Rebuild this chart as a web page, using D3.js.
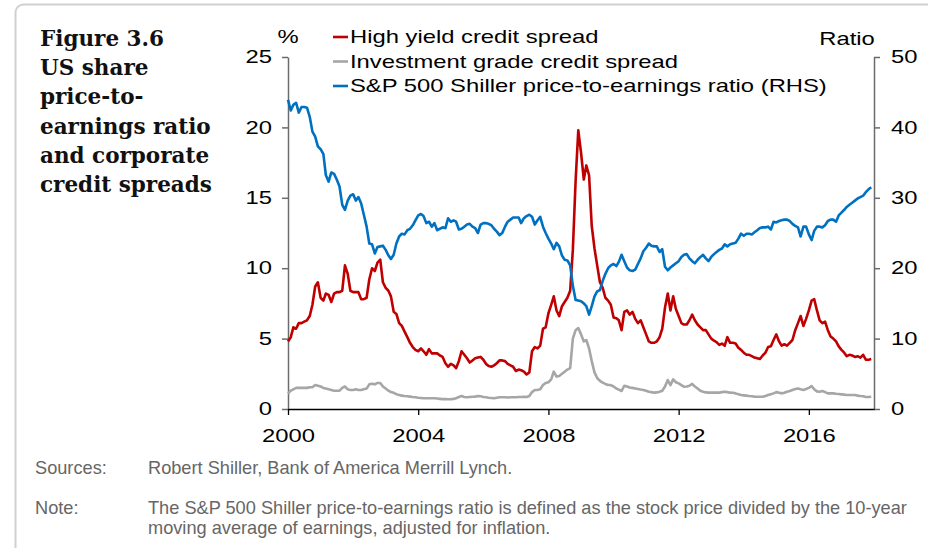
<!DOCTYPE html>
<html>
<head>
<meta charset="utf-8">
<script src="https://cdn.jsdelivr.net/npm/d3@7"></script>
<style>
  body { margin: 0; background: #fff; }
  svg { display: block; }
</style>
</head>
<body>
<svg id="chart" width="928" height="548"></svg>
<script>
// monthly data, Jan 2000 - Dec 2017
const startYear = 2000;

// high yield credit spread, % (LHS)
const hySpread = [
  4.8, 5.1, 5.8, 5.7, 6.1, 6.1, 6.2, 6.3, 6.6, 7.4, 8.7, 9.0,
  7.9, 7.7, 8.2, 8.1, 7.6, 8.2, 8.3, 8.3, 8.4, 10.2, 9.6, 8.4,
  8.3, 8.3, 8.3, 7.8, 7.8, 7.9, 9.2, 10.0, 9.8, 10.4, 10.6, 9.0,
  8.6, 8.4, 8.0, 6.9, 6.75, 6.1, 5.9, 5.5, 5.1, 4.7, 4.4, 4.2,
  4.1, 4.3, 4.1, 3.85, 4.25, 3.95, 3.95, 3.95, 3.8, 3.7, 3.25, 3.0,
  3.2, 3.1, 2.9, 3.4, 4.1, 3.85, 3.6, 3.3, 3.45, 3.6, 3.65, 3.7,
  3.5, 3.2, 3.05, 3.0, 3.1, 3.25, 3.45, 3.45, 3.4, 3.2, 3.1, 3.0,
  2.7, 2.8, 2.75, 2.65, 2.45, 2.6, 4.1, 4.4, 4.3, 4.5, 5.7, 5.8,
  6.8, 7.4, 8.0, 7.0, 6.6, 7.3, 7.6, 7.9, 8.4, 11.3, 16.2, 19.8,
  18.2, 16.3, 17.3, 16.6, 13.0, 11.4, 10.2, 9.0, 8.6, 7.9, 7.7, 7.4,
  6.5, 6.45, 6.3, 5.6, 6.9, 7.0, 6.7, 6.9, 6.4, 6.1, 6.3, 5.8,
  5.3, 4.8, 4.7, 4.7, 4.8, 5.1, 5.7, 7.2, 8.2, 7.0, 8.0, 7.1,
  6.6, 6.1, 6.0, 6.0, 6.3, 6.7, 6.3, 6.0, 5.8, 5.6, 5.6, 5.3,
  5.0, 4.85, 4.75, 4.55, 4.65, 4.5, 5.1, 4.7, 4.7, 4.65, 4.35, 4.2,
  4.0, 3.85, 3.85, 3.75, 3.65, 3.6, 3.55, 3.8, 4.0, 4.4, 4.45, 4.9,
  5.3, 4.8, 4.5, 4.6, 4.5, 4.7, 4.9, 5.6, 6.1, 6.6, 5.9, 6.4,
  7.0, 7.7, 7.8, 7.0, 6.3, 6.1, 6.2, 5.6, 5.15, 5.0, 4.8, 4.45,
  4.2, 4.0, 3.75, 3.85, 3.8, 3.7, 3.75, 3.65, 3.85, 3.5, 3.5, 3.55
];

// investment grade credit spread, % (LHS)
const igSpread = [
  1.1, 1.3, 1.4, 1.5, 1.5, 1.5, 1.5, 1.5, 1.55, 1.55, 1.7, 1.65,
  1.6, 1.5, 1.45, 1.4, 1.35, 1.3, 1.3, 1.3, 1.5, 1.6, 1.4, 1.35,
  1.35, 1.4, 1.35, 1.35, 1.4, 1.45, 1.75, 1.8, 1.75, 1.85, 1.85, 1.6,
  1.45, 1.3, 1.2, 1.15, 1.05, 1.0, 0.95, 0.92, 0.9, 0.88, 0.85, 0.83,
  0.8, 0.78, 0.76, 0.76, 0.76, 0.76, 0.76, 0.74, 0.72, 0.7, 0.7, 0.69,
  0.7, 0.72, 0.76, 0.85, 0.92, 0.85, 0.83, 0.85, 0.87, 0.88, 0.92, 0.9,
  0.85, 0.83, 0.8, 0.78, 0.76, 0.8, 0.83, 0.83, 0.83, 0.82, 0.83, 0.83,
  0.83, 0.85, 0.85, 0.87, 0.85, 0.92, 1.2, 1.35, 1.35, 1.4, 1.7, 1.85,
  1.9, 2.1, 2.65, 2.3, 2.35, 2.5, 2.65, 2.8, 2.9, 5.0, 5.6, 5.75,
  5.3, 4.8, 4.9, 4.3, 3.4, 2.6, 2.2, 2.0, 1.87, 1.78, 1.7, 1.7,
  1.6, 1.46, 1.38, 1.28, 1.65, 1.6, 1.53, 1.5, 1.46, 1.42, 1.38, 1.35,
  1.3, 1.23, 1.2, 1.16, 1.18, 1.23, 1.3, 1.6, 2.06, 1.7, 2.1, 1.9,
  1.82, 1.7, 1.58, 1.6, 1.65, 1.78, 1.6, 1.46, 1.3, 1.23, 1.18, 1.16,
  1.16, 1.16, 1.16, 1.16, 1.2, 1.23, 1.2, 1.16, 1.15, 1.11, 1.05, 0.99,
  0.97, 0.95, 0.92, 0.9, 0.88, 0.87, 0.87, 0.87, 0.92, 0.99, 1.05, 1.11,
  1.2, 1.16, 1.11, 1.15, 1.23, 1.28, 1.35, 1.42, 1.46, 1.4, 1.35, 1.42,
  1.5, 1.63, 1.4, 1.25, 1.23, 1.28, 1.2, 1.11, 1.11, 1.11, 1.08, 1.06,
  1.04, 1.02, 0.99, 0.99, 0.99, 0.99, 0.95, 0.92, 0.9, 0.85, 0.85, 0.87
];

// S&P 500 Shiller price-to-earnings ratio (RHS)
const peRatio = [
  43.9, 42.4, 43.2, 43.5, 42.1, 42.9, 42.9, 42.8, 41.5, 39.4, 38.7, 37.3,
  36.9, 36.2, 33.2, 32.3, 33.6, 33.4, 32.6, 31.6, 29.0, 28.3, 29.6, 30.3,
  30.5, 29.6, 30.1, 29.2, 27.6, 25.9, 23.5, 23.4, 22.1, 23.0, 23.1, 23.2,
  22.6, 21.8, 21.3, 21.9, 23.5, 24.5, 24.9, 24.8, 25.4, 25.6, 26.1, 26.8,
  27.5, 27.7, 27.4, 26.4, 26.6, 25.9, 26.4, 25.4, 25.6, 25.8, 25.7, 27.1,
  26.6, 26.8, 26.6, 25.5, 25.6, 25.9, 26.2, 26.3, 25.9, 25.7, 25.0, 26.2,
  26.4, 26.4, 26.3, 26.1, 25.6, 25.2, 24.7, 25.0, 25.9, 26.6, 26.9, 27.2,
  27.2, 27.2, 26.4, 27.1, 27.4, 27.6, 27.3, 26.2, 26.8, 27.3, 25.9, 25.0,
  24.2, 23.5, 22.7, 23.6, 23.1, 21.8, 21.2, 21.1, 20.4, 17.5, 15.5, 15.4,
  15.3, 15.0, 14.6, 13.4, 14.6, 16.0, 16.7, 16.9, 18.2, 19.2, 20.0, 20.4,
  20.6, 20.3, 20.9, 21.9, 21.0, 20.1, 19.7, 19.6, 19.8, 20.6, 21.4, 22.4,
  22.9, 23.5, 23.2, 23.1, 23.1, 22.3, 22.7, 20.2, 19.7, 20.1, 20.4, 20.7,
  21.0, 21.6, 21.9, 22.0, 21.4, 21.0, 20.7, 21.2, 21.6, 21.9, 21.4, 21.0,
  21.6, 22.0, 22.3, 22.6, 22.8, 23.4, 23.1, 23.4, 23.5, 23.6, 24.2, 24.9,
  24.6, 24.9, 24.9, 24.8, 25.1, 25.4, 25.7, 25.8, 25.8, 25.9, 25.5, 26.6,
  26.5, 26.7, 26.8, 26.9, 26.9, 26.7, 26.3, 26.0, 25.8, 24.5, 25.9, 25.9,
  24.8, 24.0, 25.3, 25.9, 25.9, 25.8, 26.1, 26.7, 26.9, 26.9, 26.6, 27.5,
  27.9, 28.3, 28.7, 29.0, 29.3, 29.6, 29.9, 30.1, 30.3, 30.8, 31.2, 31.5
];

const leftTicks = [0, 5, 10, 15, 20, 25];
const rightTicks = [0, 10, 20, 30, 40, 50];
const yearTicks = [2000, 2004, 2008, 2012, 2016];

const titleLines = ["Figure 3.6", "US share", "price-to-", "earnings ratio", "and corporate", "credit spreads"];
const seriesNames = [
  "High yield credit spread",
  "Investment grade credit spread",
  "S&P 500 Shiller price-to-earnings ratio (RHS)"
];
const seriesColors = ["#c00000", "#a6a6a6", "#0070c0"];
const sourcesText = "Robert Shiller, Bank of America Merrill Lynch.";
const noteLines = [
  "The S&P 500 Shiller price-to-earnings ratio is defined as the stock price divided by the 10-year",
  "moving average of earnings, adjusted for inflation."
];

const sansFont = "'Liberation Sans', Arial, sans-serif";
const stretch = 1.36;   // chart lettering in the original is wide
const chartFontSize = 17.5;

const svg = d3.select("#chart");

// panel border
svg.append("rect")
  .attr("x", 15.5)
  .attr("y", 4.5)
  .attr("width", 940)
  .attr("height", 570)
  .attr("rx", 8)
  .attr("fill", "none")
  .attr("stroke", "#d0d0d0")
  .attr("stroke-width", 2);

// title
svg.append("g")
  .selectAll("text").data(titleLines).enter().append("text")
  .attr("x", 40)
  .attr("y", (d, i) => 46 + i * 29.2)
  .attr("font-family", "'DejaVu Serif', serif")
  .attr("font-weight", "bold")
  .attr("font-size", 21.5)
  .attr("fill", "#111")
  .text(d => d);

const months = d3.range(hySpread.length).map(i => new Date(startYear, i, 1));

const x = d3.scaleTime()
  .domain([new Date(2000, 0, 1), new Date(2018, 0, 1)])
  .range([288, 874]);
const yLeft = d3.scaleLinear().domain([0, 25]).range([409, 57]);
const yRight = d3.scaleLinear().domain([0, 50]).range([409, 57]);

function styleTickText(g, dx, dy) {
  g.attr("font-size", null).attr("font-family", null);
  g.selectAll(".tick text")
    .attr("x", null)
    .attr("y", null)
    .attr("font-family", sansFont)
    .attr("font-size", chartFontSize)
    .attr("fill", "#000")
    .attr("transform", `translate(${dx},${dy}) scale(${stretch},1)`);
}

// left axis
svg.append("g")
  .attr("transform", "translate(288,0)")
  .call(d3.axisLeft(yLeft).tickValues(leftTicks).tickSize(6).tickSizeOuter(0))
  .call(g => g.select(".domain").attr("stroke", "#6b6b6b").attr("stroke-width", 1.5))
  .call(g => g.selectAll(".tick line").attr("stroke", "#6b6b6b").attr("stroke-width", 1.5))
  .call(g => styleTickText(g, -16, 0));

// right axis
svg.append("g")
  .attr("transform", "translate(874,0)")
  .call(d3.axisRight(yRight).tickValues(rightTicks).tickSize(6).tickSizeOuter(0))
  .call(g => g.select(".domain").attr("stroke", "#6b6b6b").attr("stroke-width", 1.5))
  .call(g => g.selectAll(".tick line").attr("stroke", "#6b6b6b").attr("stroke-width", 1.5))
  .call(g => styleTickText(g, 17, 0));

// bottom axis
svg.append("g")
  .attr("transform", "translate(0,409)")
  .call(d3.axisBottom(x)
    .tickValues(yearTicks.map(yr => new Date(yr, 0, 1)))
    .tickFormat(d3.timeFormat("%Y"))
    .tickSize(6)
    .tickSizeOuter(0))
  .call(g => g.select(".domain").attr("stroke", "#000").attr("stroke-width", 1.3))
  .call(g => g.selectAll(".tick line").attr("stroke", "#000").attr("stroke-width", 1.3))
  .call(g => g.selectAll(".tick text").attr("dy", null))
  .call(g => styleTickText(g, 0, 33));

// axis units
svg.append("text")
  .attr("transform", `translate(288,43) scale(${stretch},1)`)
  .attr("text-anchor", "middle")
  .attr("font-family", sansFont)
  .attr("font-size", chartFontSize)
  .text("%");

svg.append("text")
  .attr("transform", `translate(847,45) scale(${stretch},1)`)
  .attr("text-anchor", "middle")
  .attr("font-family", sansFont)
  .attr("font-size", chartFontSize)
  .text("Ratio");

// series
const leftLine = d3.line()
  .x((d, i) => x(months[i]))
  .y(d => yLeft(d));
const rightLine = d3.line()
  .x((d, i) => x(months[i]))
  .y(d => yRight(d));

const seriesPaths = [
  { values: hySpread, line: leftLine },
  { values: igSpread, line: leftLine },
  { values: peRatio, line: rightLine }
];

svg.append("g")
  .selectAll("path").data(seriesPaths).enter().append("path")
  .attr("fill", "none")
  .attr("stroke", (d, i) => seriesColors[i])
  .attr("stroke-width", 2.6)
  .attr("stroke-linejoin", "round")
  .attr("d", d => d.line(d.values));

// legend
const legend = svg.append("g")
  .selectAll("g").data(seriesNames).enter().append("g")
  .attr("transform", (d, i) => `translate(0,${37 + i * 24.5})`);

legend.append("line")
  .attr("x1", 333)
  .attr("x2", 348)
  .attr("stroke", (d, i) => seriesColors[i])
  .attr("stroke-width", 2.6);

legend.append("text")
  .attr("transform", `translate(350,6) scale(${stretch},1)`)
  .attr("font-family", sansFont)
  .attr("font-size", chartFontSize)
  .attr("fill", "#000")
  .text(d => d);

// sources and note
const footer = svg.append("g")
  .attr("font-family", sansFont)
  .attr("font-size", 18.2)
  .attr("fill", "#666");

footer.append("text").attr("x", 35).attr("y", 474).text("Sources:");
footer.append("text").attr("x", 148).attr("y", 474).text(sourcesText);
footer.append("text").attr("x", 35).attr("y", 514).text("Note:");
footer.selectAll(".note").data(noteLines).enter().append("text")
  .attr("class", "note")
  .attr("x", 148)
  .attr("y", (d, i) => 514 + i * 20)
  .text(d => d);
</script>
</body>
</html>
